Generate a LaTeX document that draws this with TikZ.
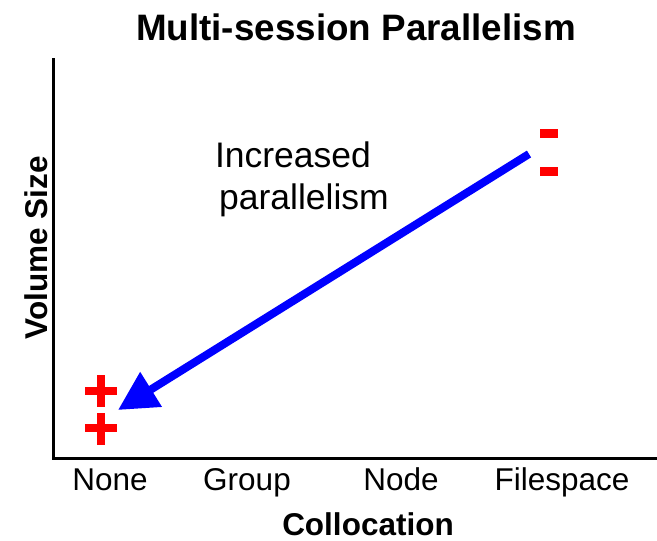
\documentclass[tikz,border=0pt]{standalone}
\usepackage{fontspec}
\setmainfont{Liberation Sans}
\usetikzlibrary{arrows.meta}
\begin{document}
\begin{tikzpicture}[x=1pt,y=-1pt,
  axis/.style={line width=3pt, black},
  ticklabel/.style={anchor=base, inner sep=0pt, font=\fontsize{31.5}{36}\selectfont},
  axislabel/.style={anchor=base, inner sep=0pt, font=\fontsize{31.5}{36}\selectfont\bfseries},
  titlelabel/.style={anchor=base, inner sep=0pt, font=\fontsize{36.8}{44}\selectfont\bfseries},
  note/.style={anchor=base, inner sep=0pt, font=\fontsize{35.5}{42}\selectfont},
  plusbar/.style={fill=red, draw=none},
  trend/.style={line width=8pt, blue, -{Triangle[length=39pt, width=39pt]}}
]
\useasboundingbox (0,0) rectangle (657,541);

% axes
\coordinate (origin) at (53,458);
\coordinate (ytop) at (53,59);
\coordinate (xend) at (657,458);
\draw[axis, line cap=rect] (ytop) -- (origin) -- (xend);

% title and axis labels
\node[titlelabel] (title) at (356,40) {Multi-session Parallelism};
\node[axislabel] (xlabel) at (368,535) {Collocation};
\node[axislabel, rotate=90] (ylabel) at (47,248) {Volume Size};

% category labels
\node[ticklabel] (none) at (110,490) {None};
\node[ticklabel] (group) at (247,490) {Group};
\node[ticklabel] (node) at (401,490) {Node};
\node[ticklabel] (filespace) at (562,490) {Filespace};

% annotation
\node[note] (inc1) at (293,167) {Increased};
\node[note] (inc2) at (304,209) {parallelism};

% plus signs
\fill[plusbar] (85,386.7) rectangle (116.7,394.7);
\fill[plusbar] (96.7,375) rectangle (104.7,406.7);
\fill[plusbar] (85,424.3) rectangle (116.7,432.3);
\fill[plusbar] (96.7,413) rectangle (104.7,445);

% minus signs
\fill[plusbar] (540,129) rectangle (558,137.5);
\fill[plusbar] (540,167) rectangle (558,175.5);

% trend arrow
\coordinate (from) at (529,154);
\coordinate (to) at (118,410);
\draw[trend] (from) -- (to);
\end{tikzpicture}
\end{document}
